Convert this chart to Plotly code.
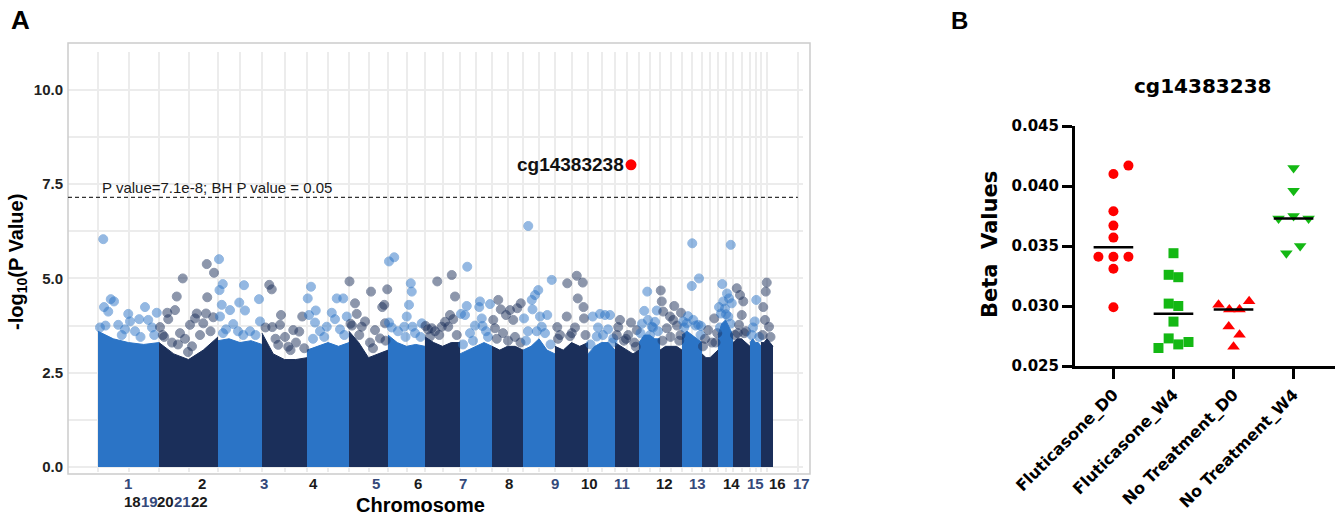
import numpy as np
import plotly.graph_objects as go

W, H = 1341, 515
FONT_A = "Liberation Sans, Arial, sans-serif"
FONT_B = "DejaVu Sans, sans-serif"

# ---------------- Panel A: genome-wide scan ----------------
chrom_names = [str(i) for i in range(1, 23)]
# cumulative chromosome boundaries along the genome axis
chrom_bounds = [0, 244, 480, 656, 836, 1004, 1160, 1308, 1448, 1576, 1700, 1828,
                1960, 2068, 2164, 2248, 2336, 2416, 2480, 2540, 2608, 2652, 2700]
# upper edge of the dense bulk of -log10(p) values, sampled evenly across each chromosome
band_top = [
    [3.6, 3.4, 3.3, 3.25, 3.3], [3.3, 3.0, 2.85, 3.1, 3.45], [3.35, 3.4, 3.3, 3.35, 3.25],
    [3.55, 3.0, 2.85, 2.85, 2.9], [3.1, 3.2, 3.3, 3.2, 3.3], [3.6, 3.3, 2.9, 3.0, 3.1],
    [3.5, 3.3, 3.2, 3.25, 3.2], [3.45, 3.3, 3.2, 3.3, 3.3], [3.0, 3.1, 3.2, 3.3, 3.2],
    [3.2, 3.1, 3.2, 3.2, 3.1], [3.1, 3.2, 3.4, 3.1, 3.0], [3.2, 3.1, 3.3, 3.2, 3.3],
    [3.0, 3.2, 3.3, 3.3, 3.1], [3.3, 3.2, 3.1, 3.0, 3.1], [3.3, 3.5, 3.5, 3.4, 3.4],
    [3.1, 3.2, 3.2, 3.2, 3.1], [3.5, 3.6, 3.5, 3.4, 3.3], [3.0, 2.9, 2.9, 3.0, 3.1],
    [3.5, 3.8, 3.9, 3.7, 3.5], [3.3, 3.4, 3.4, 3.3, 3.2], [3.3, 3.4, 3.3, 3.3, 3.2],
    [3.3, 3.3, 3.4, 3.3, 3.2],
]
# CpGs standing out above the bulk (cumulative position, -log10 p)
hit_pos = [
    21, 51, 64, 24, 41, 121, 188, 165, 235, 128, 81, 201, 8, 108, 216, 148, 30, 95, 170, 225,
    339, 435, 464, 315, 437, 277, 308, 281, 395, 432, 388, 368, 421, 461, 259, 328, 248, 348, 408, 296, 376,
    265, 320, 360, 450,
    484, 499, 486, 584, 495, 528, 565, 588, 644, 648, 541, 488, 581, 608, 512, 500, 560, 630,
    685, 695, 732, 697, 728, 781, 805, 817, 761, 721, 748, 792, 670, 710, 770, 825,
    852, 839, 871, 844, 868, 955, 981, 935, 948, 915, 995, 888, 968, 860, 905, 985,
    1006, 1028, 1035, 1092, 1137, 1145, 1068, 1108, 1128, 1055, 1148, 1157, 1016, 1088,
    1010, 1045, 1100, 1150,
    1164, 1185, 1251, 1255, 1244, 1235, 1225, 1258, 1164, 1295, 1200, 1268, 1175, 1230, 1290,
    1310, 1357, 1335, 1375, 1328, 1415, 1428, 1421, 1401, 1388, 1408, 1348, 1320, 1365, 1435,
    1477, 1475, 1468, 1452, 1528, 1525, 1568, 1535, 1538, 1488, 1552, 1508, 1460, 1500, 1560,
    1601, 1611, 1648, 1677, 1691, 1632, 1581, 1588, 1661, 1620, 1668, 1595, 1640, 1690,
    1704, 1721, 1735, 1748, 1761, 1738, 1768, 1797, 1815, 1775, 1720, 1788, 1712, 1755, 1810,
    1877, 1915, 1939, 1919, 1942, 1875, 1837, 1888, 1944, 1908, 1848, 1840, 1895, 1950,
    1979, 2008, 2028, 2048, 1995, 2061, 2000, 2040, 1970, 2020, 2058,
    2088, 2132, 2081, 2155, 2121, 2151, 2104, 2075, 2112, 2145,
    2197, 2185, 2235, 2215, 2208, 2176, 2228, 2200, 2170, 2220, 2240,
    2251, 2255, 2305, 2261, 2332, 2288, 2301, 2275, 2330, 2316, 2258, 2290, 2325,
    2377, 2404, 2375, 2381, 2355, 2401, 2341, 2412, 2360, 2345, 2390, 2410,
    2465, 2441, 2477, 2428, 2456, 2420, 2470,
    2531, 2497, 2484, 2501, 2524, 2535, 2492, 2521, 2508, 2516, 2488, 2512, 2530,
    2555, 2568, 2581, 2575, 2564, 2559, 2592, 2548, 2585,
    2633, 2627, 2620, 2615, 2645,
    2675, 2671, 2661, 2684, 2668, 2658, 2690,
]
hit_logp = [
    6.04, 4.45, 4.39, 4.24, 4.12, 4.06, 4.24, 3.92, 4.09, 3.86, 3.77, 3.9, 3.7, 3.65, 3.7, 3.6, 3.75, 3.5, 3.45, 3.5,
    5.0, 5.38, 5.15, 4.52, 4.5, 4.09, 4.16, 3.92, 4.07, 4.07, 3.94, 3.77, 3.81, 3.97, 3.5, 3.55, 3.71, 3.4, 3.5, 3.3, 3.2,
    3.45, 3.25, 3.05, 3.6,
    5.51, 4.85, 4.69, 4.82, 4.30, 4.16, 4.36, 4.15, 4.45, 3.86, 3.79, 3.99, 3.5, 3.6, 3.65, 3.55, 3.6, 3.5,
    4.83, 4.71, 4.03, 3.71, 3.77, 3.63, 3.59, 3.99, 3.19, 3.24, 3.45, 3.3, 3.7, 3.4, 3.1, 3.15,
    4.78, 4.47, 4.15, 4.03, 3.83, 4.47, 4.47, 4.09, 3.92, 3.72, 3.99, 3.6, 3.65, 3.4, 3.45, 3.5,
    4.92, 4.34, 4.06, 4.65, 4.24, 4.3, 3.86, 3.63, 3.41, 3.72, 3.81, 4.71, 3.75, 3.3,
    3.8, 3.5, 3.15, 3.35,
    5.45, 5.56, 4.87, 4.65, 4.3, 3.99, 3.72, 3.72, 3.83, 3.81, 3.6, 3.55, 3.7, 3.45, 3.45,
    3.74, 4.92, 3.68, 3.72, 3.46, 5.09, 4.52, 3.92, 3.72, 3.85, 4.03, 3.6, 3.65, 3.5, 3.5,
    5.31, 4.27, 4.03, 4.06, 4.39, 4.24, 4.32, 3.94, 3.74, 3.55, 3.6, 3.75, 3.25, 3.35, 3.45,
    4.43, 4.18, 4.16, 4.21, 4.34, 4.03, 3.90, 3.68, 3.90, 3.55, 3.45, 3.4, 3.35, 3.3,
    3.94, 6.39, 4.43, 4.56, 4.69, 4.18, 3.99, 4.03, 4.96, 3.72, 3.6, 3.55, 3.35, 3.6, 3.25,
    4.87, 5.07, 4.89, 4.47, 4.24, 3.99, 3.71, 3.47, 3.94, 3.7, 3.5, 3.4, 3.55, 3.5,
    3.99, 4.06, 4.03, 4.03, 3.46, 3.41, 3.7, 3.65, 3.25, 3.5, 3.3,
    3.9, 3.83, 3.71, 3.63, 3.5, 3.19, 3.35, 3.5, 3.4, 3.3,
    4.65, 4.14, 4.15, 3.72, 3.5, 3.8, 3.85, 3.9, 3.55, 3.7, 3.6,
    4.68, 4.39, 4.27, 4.12, 4.09, 3.99, 3.9, 3.68, 3.5, 3.75, 3.35, 3.45, 3.35,
    5.93, 5.0, 4.8, 3.9, 3.81, 3.77, 3.86, 3.74, 4.0, 3.7, 3.75, 3.5,
    3.94, 3.63, 3.55, 3.4, 3.3, 3.2, 3.3,
    5.89, 4.85, 4.24, 4.39, 4.47, 4.34, 4.07, 3.99, 4.2, 4.6, 3.7, 4.05, 3.8,
    4.74, 4.56, 4.39, 4.03, 3.77, 3.55, 3.6, 3.5, 3.55,
    4.43, 3.86, 3.7, 3.5, 3.45,
    4.89, 4.65, 4.24, 3.72, 3.9, 3.5, 3.45,
]
lead_cpg = "cg14383238"
lead_pos = 2132
lead_logp = 8.01
threshold_p = 7.1e-8
threshold_text = "P value=7.1e-8; BH P value = 0.05"

# chromosome labels along the genome axis (two rows)
label_row1 = [str(i) for i in range(1, 18)]
label_row1_pos = [120, 416, 664, 860, 1112, 1280, 1460, 1644, 1828, 1964, 2096,
                  2264, 2396, 2532, 2628, 2716, 2812]
label_row2 = ["18", "19", "20", "21", "22"]
label_row2_pos = [137, 204, 271, 337, 404]

# ---------------- Panel B: beta values of the lead CpG ----------------
groups = ["Fluticasone_D0", "Fluticasone_W4", "No Treatment_D0", "No Treatment_W4"]
flut_d0 = [0.0417, 0.0410, 0.0379, 0.0367, 0.0357, 0.0341, 0.0341, 0.0341, 0.0331, 0.0299]
flut_w4 = [0.0344, 0.0326, 0.0324, 0.0302, 0.0300, 0.0287, 0.0273, 0.0270, 0.0268, 0.0265]
notx_d0 = [0.0301, 0.0297, 0.0297, 0.0304, 0.0283, 0.0276, 0.0266]
notx_w4 = [0.0415, 0.0396, 0.0373, 0.0375, 0.0373, 0.0350, 0.0344]

# horizontal spread of the dots within each column
flut_d0_dx = [0.25, 0, 0, 0, 0, -0.25, 0, 0.25, 0, 0]
flut_w4_dx = [0, -0.08, 0.08, -0.08, 0.08, 0, -0.08, 0.25, 0.08, -0.25]
notx_d0_dx = [-0.25, -0.07, 0.1, 0.26, -0.08, 0.1, 0]
notx_w4_dx = [0, 0, -0.25, 0, 0.25, 0.11, -0.12]

LIGHT = "#2b74c6"
NAVY = "#1b2f5a"
LABEL_NAVY = "#34497a"
LABEL_DARK = "#1a1a1a"
RED = "#ff0000"
GREEN = "#14b814"


def px_x(v):
    return v / W


def px_y(v):
    return 1 - v / H


fig = go.Figure()

# dense bulk of each chromosome
for i in range(len(chrom_names)):
    x0, x1 = chrom_bounds[i], chrom_bounds[i + 1]
    xs = np.linspace(x0, x1, len(band_top[i]))
    col = LIGHT if i % 2 == 0 else NAVY
    fig.add_trace(go.Scatter(
        x=xs, y=band_top[i], mode="lines", fill="tozeroy", fillcolor=col,
        line=dict(color=col, width=1), hoverinfo="skip", showlegend=False,
        xaxis="x", yaxis="y"))

# individual CpGs above the bulk
chrom_idx = np.searchsorted(chrom_bounds, hit_pos, side="right") - 1
hit_cols = [LIGHT if k % 2 == 0 else NAVY for k in chrom_idx]
fig.add_trace(go.Scatter(
    x=hit_pos, y=hit_logp, mode="markers",
    marker=dict(size=9, color=hit_cols, opacity=0.5, line=dict(color=hit_cols, width=1)),
    showlegend=False, xaxis="x", yaxis="y"))

# lead CpG
fig.add_trace(go.Scatter(
    x=[lead_pos], y=[lead_logp], mode="markers",
    marker=dict(size=11, color=RED), showlegend=False, xaxis="x", yaxis="y"))

# Panel B dot plots
series = [flut_d0, flut_w4, notx_d0, notx_w4]
offsets = [flut_d0_dx, flut_w4_dx, notx_d0_dx, notx_w4_dx]
symbols = ["circle", "square", "triangle-up", "triangle-down"]
colors = [RED, GREEN, RED, GREEN]
sizes = [10, 10, 11, 11]
for g, (vals, dx, sym, col, sz) in enumerate(zip(series, offsets, symbols, colors, sizes)):
    fig.add_trace(go.Scatter(
        x=[g + d for d in dx], y=vals, mode="markers",
        marker=dict(symbol=sym, size=sz, color=col, line=dict(width=0)),
        showlegend=False, xaxis="x2", yaxis="y2", cliponaxis=False))
    med = float(np.median(vals))
    fig.add_trace(go.Scatter(
        x=[g - 0.33, g + 0.33], y=[med, med], mode="lines",
        line=dict(color="black", width=2.5), showlegend=False,
        xaxis="x2", yaxis="y2"))

# grid positions: chromosome edges and centres
mids = [(chrom_bounds[i] + chrom_bounds[i + 1]) / 2 for i in range(len(chrom_names))]
grid_x = sorted(chrom_bounds[:-1] + mids + [2800])

annotations = []
annotations.append(dict(x=px_x(9), y=px_y(20), xref="paper", yref="paper", text="A",
                        showarrow=False, xanchor="left", yanchor="middle",
                        font=dict(family=FONT_A, size=26, color="black", weight="bold")))
annotations.append(dict(x=px_x(949), y=px_y(21), xref="paper", yref="paper", text="B",
                        showarrow=False, xanchor="left", yanchor="middle",
                        font=dict(family=FONT_A, size=24, color="black", weight="bold")))
for t, p in zip(label_row1, label_row1_pos):
    annotations.append(dict(x=p, y=px_y(483), xref="x", yref="paper", text=t, showarrow=False,
                            xanchor="center", yanchor="middle",
                            font=dict(family=FONT_A, size=15, weight="bold",
                                      color=LABEL_NAVY if int(t) % 2 == 1 else LABEL_DARK)))
for t, p in zip(label_row2, label_row2_pos):
    annotations.append(dict(x=p, y=px_y(501), xref="x", yref="paper", text=t, showarrow=False,
                            xanchor="center", yanchor="middle",
                            font=dict(family=FONT_A, size=15, weight="bold",
                                      color=LABEL_NAVY if int(t) % 2 == 1 else LABEL_DARK)))
annotations.append(dict(x=px_x(420), y=px_y(505), xref="paper", yref="paper", text="Chromosome",
                        showarrow=False, xanchor="center", yanchor="middle",
                        font=dict(family=FONT_A, size=20, color="black", weight="bold")))
annotations.append(dict(x=px_x(17), y=px_y(262), xref="paper", yref="paper",
                        text="-log<sub>10</sub>(P Value)", textangle=-90, showarrow=False,
                        xanchor="center", yanchor="middle",
                        font=dict(family=FONT_A, size=20, color="black", weight="bold")))
annotations.append(dict(x=8, y=7.40, xref="x", yref="y", text=threshold_text, showarrow=False,
                        xanchor="left", yanchor="middle",
                        font=dict(family=FONT_A, size=15, color="#1a1a1a")))
annotations.append(dict(x=lead_pos, y=lead_logp, xref="x", yref="y", text=lead_cpg,
                        showarrow=False, xanchor="right", yanchor="middle", xshift=-5,
                        font=dict(family=FONT_A, size=19, color="#111111", weight="bold")))
annotations.append(dict(x=px_x(1203), y=px_y(86), xref="paper", yref="paper", text=lead_cpg,
                        showarrow=False, xanchor="center", yanchor="middle",
                        font=dict(family=FONT_B, size=20, color="black", weight="bold")))
annotations.append(dict(x=px_x(990), y=px_y(245), xref="paper", yref="paper",
                        text="Beta\u00a0 Values", textangle=-90, showarrow=False,
                        xanchor="center", yanchor="middle",
                        font=dict(family=FONT_B, size=21, color="black", weight="bold")))

shapes = [
    dict(type="rect", xref="paper", yref="paper", x0=px_x(68), x1=px_x(810),
         y0=px_y(474), y1=px_y(43), line=dict(color="#cccccc", width=1.5), layer="above"),
    dict(type="line", xref="x domain", yref="y", x0=0, x1=0.993,
         y0=-np.log10(threshold_p), y1=-np.log10(threshold_p),
         line=dict(color="#333333", width=1.3, dash="4px,3px"), layer="above"),
]

fig.update_layout(
    width=W, height=H, margin=dict(l=0, r=0, t=0, b=0),
    paper_bgcolor="white", plot_bgcolor="white", template="none", showlegend=False,
    xaxis=dict(domain=[px_x(68), px_x(803)], range=[-120, 2820], tickmode="array",
               tickvals=grid_x, showticklabels=False, showgrid=True, gridcolor="#ececec",
               gridwidth=2, zeroline=False, showline=False, ticks="", anchor="y"),
    yaxis=dict(domain=[px_y(472), px_y(52)], range=[-0.13, 11.0], tickmode="array",
               tickvals=[0, 2.5, 5, 7.5, 10], ticktext=["0.0", "2.5", "5.0", "7.5", "10.0"],
               showgrid=True, gridcolor="#ececec", gridwidth=2,
               minor=dict(tickmode="array", tickvals=[1.25, 3.75, 6.25, 8.75], showgrid=True,
                          gridcolor="#ececec", gridwidth=2, ticks=""),
               zeroline=False, showline=False, ticks="", anchor="x",
               ticklabelstandoff=4,
               tickfont=dict(family=FONT_A, size=15, color="#222222", weight="bold")),
    xaxis2=dict(domain=[px_x(1075), px_x(1335)], range=[-0.64, 3.69], anchor="y2",
                tickmode="array", tickvals=[0, 1, 2, 3], ticktext=groups, tickangle=-45,
                showgrid=False, zeroline=False, showline=True, linecolor="black", linewidth=3,
                ticks="outside", ticklen=10, tickwidth=3, tickcolor="black",
                tickfont=dict(family=FONT_B, size=16, color="black", weight="bold")),
    yaxis2=dict(domain=[px_y(366), px_y(126)], range=[0.025, 0.045], anchor="x2",
                tickmode="array", tickvals=[0.025, 0.030, 0.035, 0.040, 0.045],
                tickformat=".3f", showgrid=False, zeroline=False, showline=True,
                linecolor="black", linewidth=3, ticks="outside", ticklen=10, tickwidth=3,
                tickcolor="black",
                tickfont=dict(family=FONT_B, size=15, color="black", weight="bold")),
    annotations=annotations, shapes=shapes,
)

fig.write_html("out.html")
